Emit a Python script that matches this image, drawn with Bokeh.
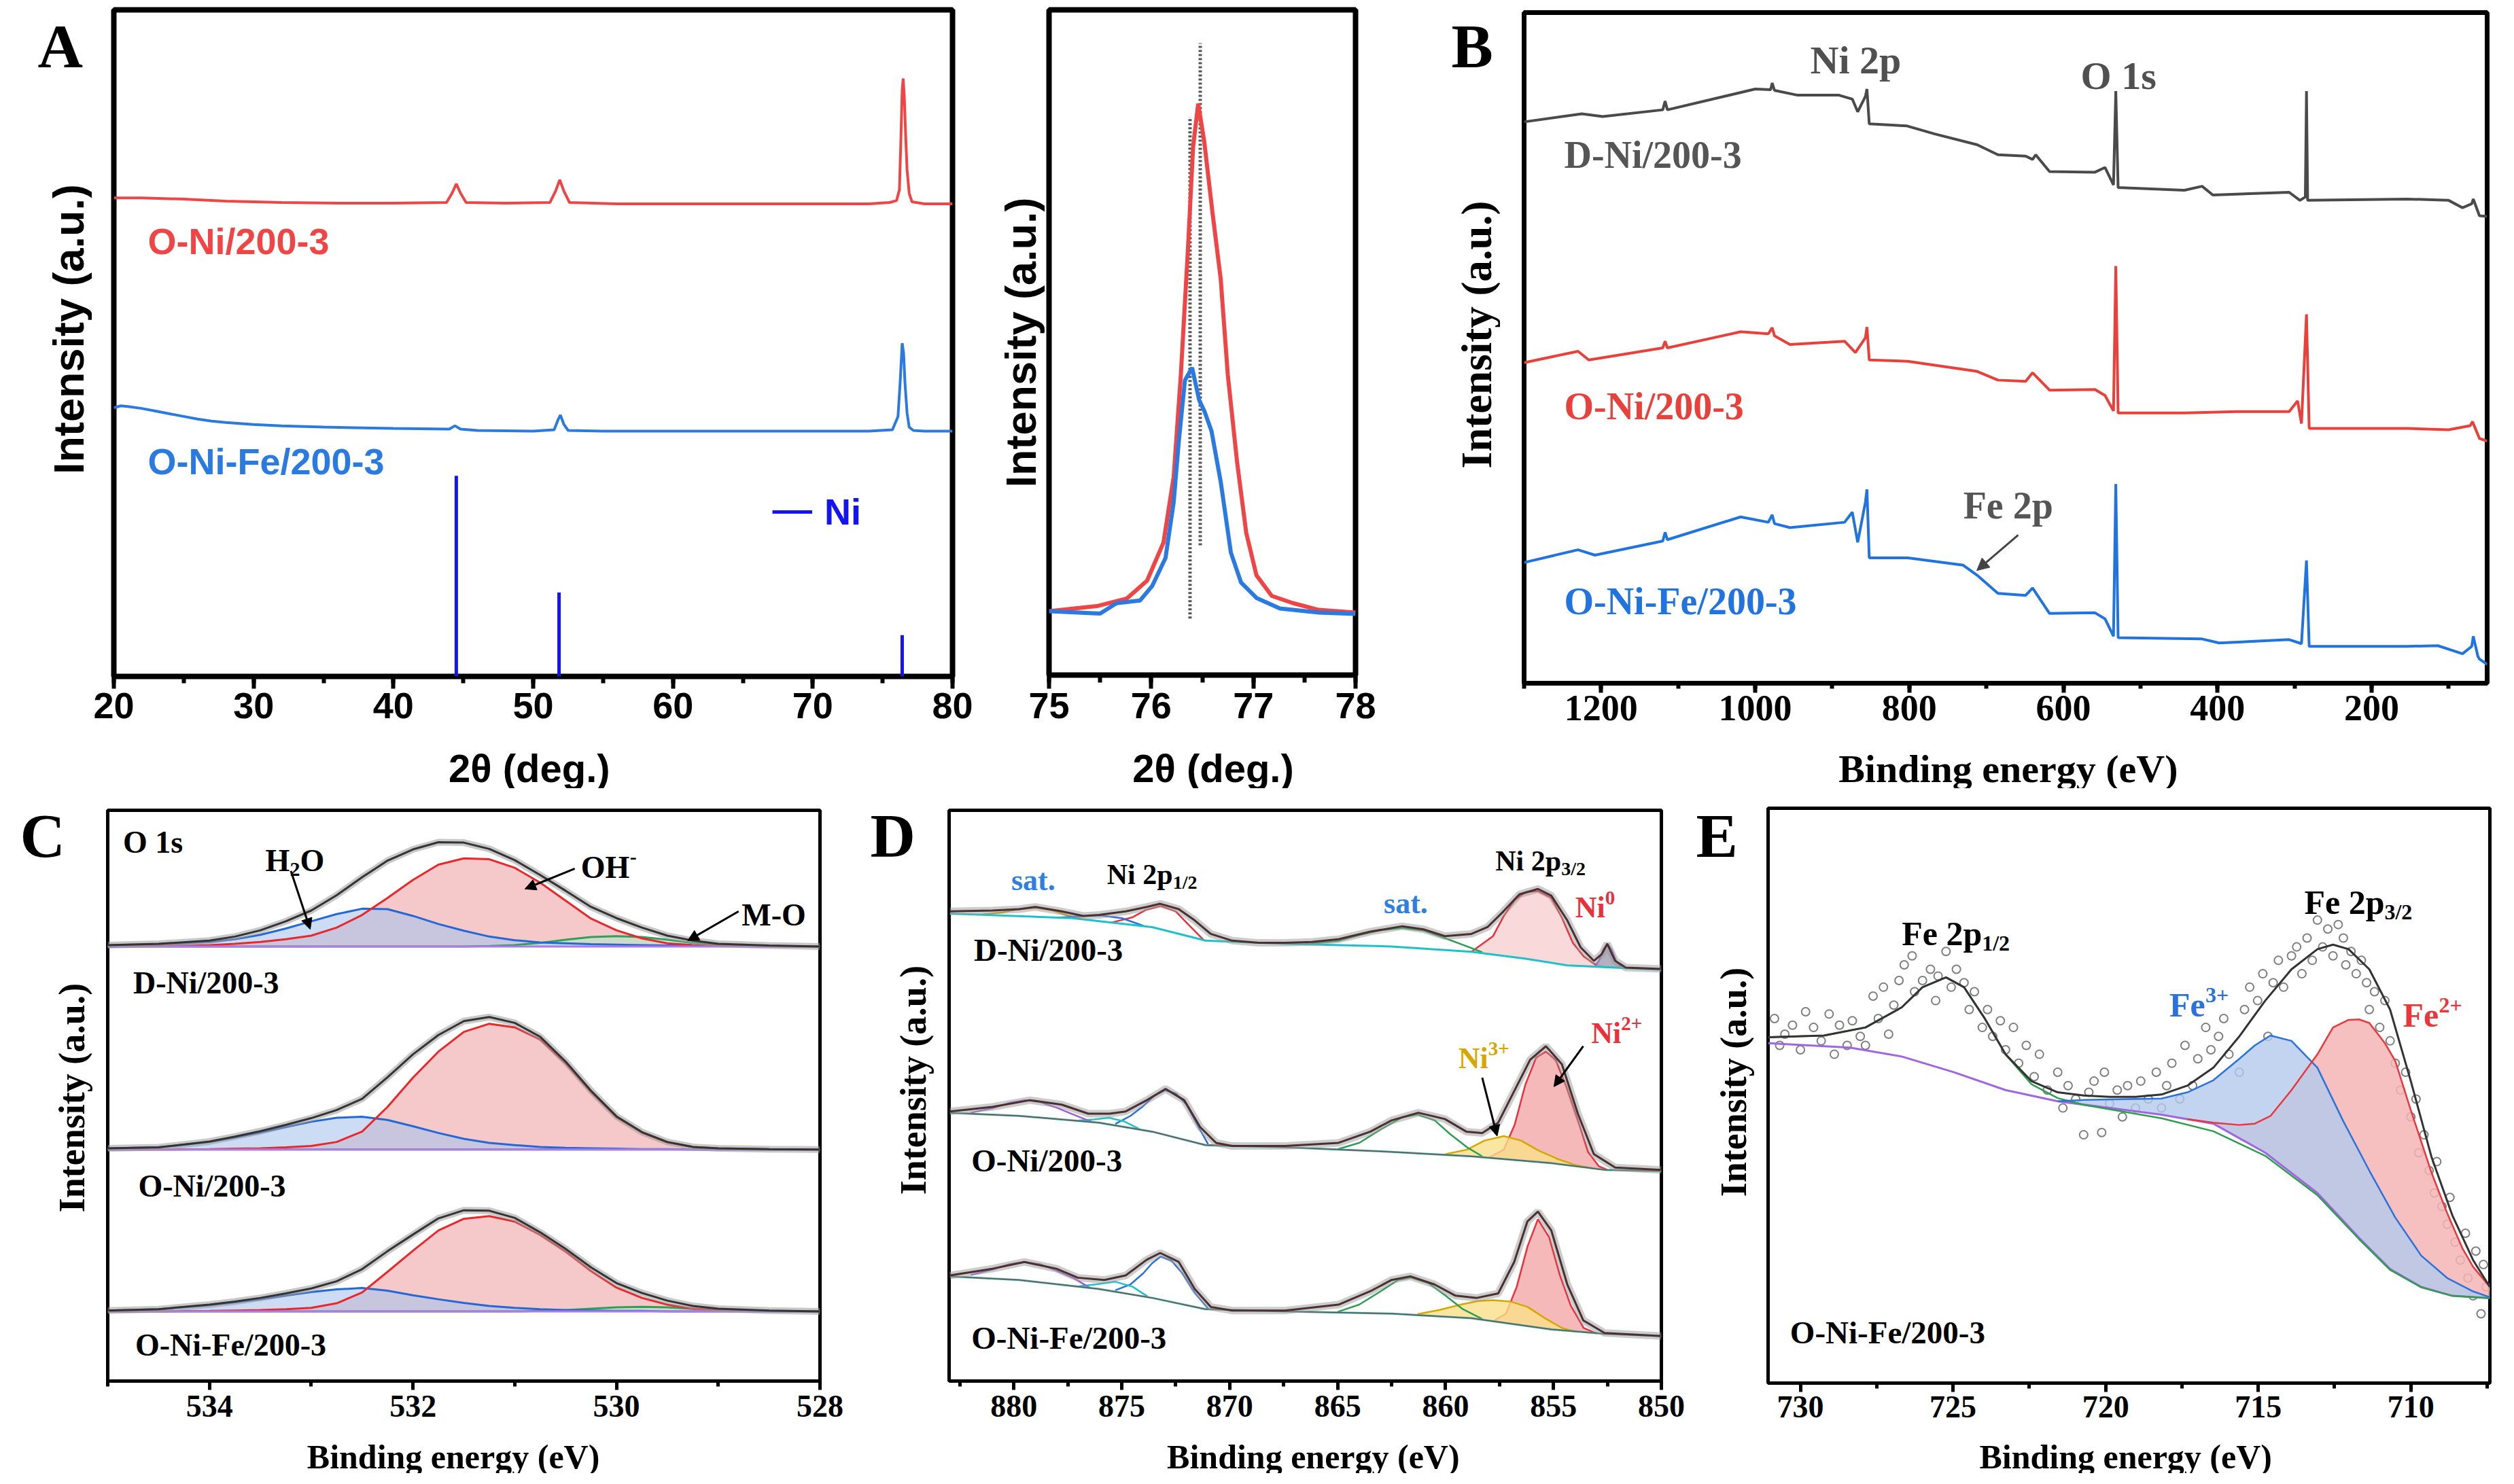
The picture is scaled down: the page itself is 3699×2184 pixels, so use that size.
import math
from bokeh.plotting import figure
from bokeh.layouts import row, column
from bokeh.models import (Range1d, SingleIntervalTicker, FixedTicker, Label, Arrow,
                          NormalHead, Legend, LegendItem)
from bokeh.embed import file_html
from bokeh.resources import INLINE

SANS = "Liberation Sans"
SERIF = "Liberation Serif"

# ======================= DATA =======================
# ---- A (XRD), intensity in a.u. (0-100) ----
A1_X_RED = [20, 22, 25, 28, 32, 36, 40, 43.8, 44.2, 44.5, 44.8, 45.2, 48, 51.2, 51.6, 51.9, 52.2, 52.6, 56, 60,
            65, 70, 74, 75.5, 76.0, 76.2, 76.3, 76.4, 76.47, 76.55, 76.65, 76.75, 76.9, 77.1, 78, 80]
A1_Y_RED = [71.8, 71.8, 71.6, 71.3, 71.1, 71.0, 71.0, 71.1, 72.5, 73.9, 72.5, 71.1, 71.0, 71.1, 72.8, 74.5, 72.8, 71.1, 70.9, 70.9,
            70.9, 70.9, 70.9, 71.1, 71.4, 73.0, 80.0, 88.0, 89.7, 87.0, 81.0, 76.0, 72.5, 71.2, 70.9, 70.9]
A1_X_BLUE = [20, 20.5, 21, 22, 23, 24, 25, 26, 27, 28, 30, 32, 35, 40, 44.0, 44.4, 44.8, 46, 50, 51.5,
             51.8, 51.95, 52.2, 52.5, 55, 60, 65, 70, 74, 75.7, 76.1, 76.25, 76.4, 76.5, 76.6, 76.75, 76.9, 77.2, 78, 80]
A1_Y_BLUE = [40.3, 40.6, 40.5, 40.2, 39.8, 39.4, 39.0, 38.6, 38.3, 38.1, 37.8, 37.6, 37.4, 37.2, 37.1, 37.6, 37.1, 36.9, 36.8, 37.0,
             38.6, 39.2, 37.8, 36.9, 36.8, 36.8, 36.8, 36.8, 36.8, 37.0, 39.0, 44.0, 50.0, 48.5, 44.0, 39.5, 37.4, 36.9, 36.8, 36.8]
A1_NI_X = [44.5, 51.85, 76.4]
A1_NI_H = [30.1, 12.6, 6.2]

A2_X_RED = [75.0, 75.48, 75.76, 75.96, 76.12, 76.22, 76.29, 76.36, 76.41, 76.46, 76.52, 76.60, 76.68, 76.75, 76.84,
            76.93, 77.03, 77.18, 77.39, 77.64, 78.0]
A2_Y_RED = [9.6, 10.4, 11.5, 14.2, 19.9, 29.8, 45.1, 64.1, 79.4, 85.9, 80.1, 69.5, 59.6, 45.1, 32.1,
            21.4, 15.0, 11.9, 10.8, 9.8, 9.4]
A2_X_BLUE = [75.0, 75.50, 75.66, 75.89, 76.01, 76.14, 76.22, 76.27, 76.33, 76.40, 76.47, 76.52, 76.59, 76.68, 76.78,
             76.88, 77.03, 77.26, 77.64, 78.0]
A2_Y_BLUE = [9.6, 9.25, 10.8, 11.2, 13.4, 17.6, 26.0, 35.1, 44.3, 46.2, 41.3, 39.7, 36.7, 29.1, 18.4,
             13.9, 11.6, 10.0, 9.4, 9.2]
A2_DOT_X = [76.38, 76.48]
A2_DOT_Y0 = [8.5, 19.5]
A2_DOT_Y1 = [83.9, 95.0]

# ---- B (XPS survey), binding energy (eV) / a.u. ----
B_X_GRAY = [1300, 1225, 1198, 1120, 1117, 1114, 1000, 980, 978, 975, 946, 892, 874, 867, 857, 855, 852, 803, 767, 712,
            685, 649, 640, 636, 618, 559, 546, 535, 532, 529, 443, 420, 406, 307, 293, 286, 284.5, 283, 154, 100,
            82, 70, 68, 60, 50]
B_Y_GRAY = [83.7, 84.9, 84.5, 85.5, 86.8, 85.5, 88.6, 88.5, 89.5, 88.4, 87.7, 87.7, 87.1, 85.2, 87.5, 88.6, 83.4, 83.1, 81.9, 80.3,
            78.8, 78.6, 78.1, 78.8, 76.3, 76.2, 76.9, 74.3, 88.3, 73.9, 73.5, 74.1, 72.8, 73.2, 72.0, 72.5, 88.3, 72.0, 72.2, 72.0,
            70.9, 71.5, 72.2, 69.7, 69.6]
B_X_RED = [1300, 1230, 1216, 1120, 1117, 1114, 1019, 983, 978, 975, 955, 884, 870, 857, 855, 852, 802, 712, 685, 649,
           640, 618, 559, 546, 535, 532, 529, 443, 375, 307, 296, 291, 284.5, 281, 154, 100, 72, 69, 60, 50]
B_Y_RED = [47.8, 49.5, 48.2, 50.0, 51.0, 50.0, 52.4, 52.1, 53.0, 51.8, 50.5, 51.0, 49.3, 51.5, 53.1, 48.2, 48.0, 46.5, 45.2, 45.0,
           46.3, 43.7, 43.8, 42.9, 40.6, 62.2, 40.3, 40.3, 40.5, 40.5, 42.1, 38.7, 55.0, 38.0, 38.0, 37.8, 38.4, 39.0, 36.5, 36.1]
B_X_BLUE = [1300, 1230, 1208, 1120, 1117, 1114, 1019, 983, 978, 975, 955, 884, 874, 867, 857, 855, 852, 802, 730, 712,
            685, 649, 640, 618, 559, 546, 535, 532, 529, 420, 398, 307, 291, 284.5, 281, 154, 114, 82, 70, 68,
            62, 60, 50]
B_Y_BLUE = [18.0, 19.9, 19.1, 21.2, 22.5, 21.4, 24.8, 24.0, 25.1, 23.8, 23.2, 24.0, 25.5, 21.0, 27.0, 28.9, 18.7, 18.7, 17.6, 16.1,
            13.4, 13.1, 14.2, 10.4, 10.5, 9.6, 7.0, 29.7, 6.8, 6.6, 6.0, 6.5, 5.9, 18.3, 5.5, 5.5, 5.6, 4.4, 5.5, 7.0,
            4.0, 3.6, 2.8]

# ---- C (O 1s), peak heights above each spectrum's baseline ----
C_X = [535, 534.5, 534, 533.75, 533.5, 533.25, 533, 532.75, 532.5, 532.25, 532, 531.75, 531.5, 531.25, 531,
       530.75, 530.5, 530.25, 530, 529.75, 529.5, 529.25, 529, 528.5, 528]
C_OFFSETS = [967, 515, 155]          # D-Ni, O-Ni, O-Ni-Fe baselines
C_DNI_H2O = [3, 5, 10, 16, 26, 40, 56, 72, 84, 83, 68, 50, 35, 22, 14, 9, 7, 5, 4, 3, 2, 2, 1, 1, 0]
C_DNI_OH = [0, 1, 3, 6, 10, 16, 24, 42, 70, 108, 148, 182, 196, 194, 175, 142, 102, 62, 36, 18, 7, 3, 1, 0, 0]
C_DNI_MO = [0, 0, 0, 0, 0, 0, 0, 0, 0, 0, 0, 0, 0, 1, 3, 8, 15, 21, 23, 21, 15, 8, 4, 1, 0]
C_DNI_FIT = [3, 6, 13, 22, 36, 56, 80, 114, 154, 191, 216, 232, 231, 217, 192, 159, 124, 88, 63, 42, 24, 13, 6, 2, 0]
C_ONI_H2O = [3, 5, 17, 27, 38, 50, 62, 71, 73, 66, 52, 37, 24, 15, 10, 6, 4, 3, 2, 1, 1, 0, 0, 0, 0]
C_ONI_OH = [0, 0, 1, 2, 3, 5, 8, 17, 40, 95, 160, 218, 262, 280, 272, 245, 192, 128, 72, 38, 16, 6, 3, 1, 0]
C_ONI_MO = [0, 0, 0, 0, 0, 0, 0, 0, 0, 0, 0, 0, 0, 0, 0, 0, 0, 0, 0, 0, 0, 0, 0, 0, 0]
C_ONI_FIT = [3, 5, 18, 29, 41, 55, 70, 88, 113, 161, 212, 255, 286, 295, 282, 251, 196, 131, 74, 39, 17, 6, 3, 1, 0]
C_ONF_H2O = [2, 5, 14, 20, 27, 35, 43, 49, 52, 46, 36, 27, 19, 12, 8, 5, 3, 2, 1, 1, 0, 0, 0, 0, 0]
C_ONF_OH = [0, 0, 1, 2, 3, 5, 8, 18, 42, 88, 135, 180, 206, 212, 200, 170, 133, 90, 53, 30, 15, 6, 3, 1, 0]
C_ONF_MO = [0, 0, 0, 0, 0, 0, 0, 0, 0, 0, 0, 0, 0, 0, 0, 1, 3, 6, 9, 10, 9, 6, 3, 1, 0]
C_ONF_FIT = [2, 5, 15, 22, 30, 40, 51, 67, 94, 134, 171, 207, 225, 224, 208, 176, 139, 98, 63, 41, 24, 12, 6, 2, 0]

# ---- D (Ni 2p) ----
D1_BG_X = [882.96, 877.29, 873.59, 871.12, 867.43, 862.5, 858.8, 856.33, 854.36, 850.0]
D1_BG_Y = [1040, 1030, 1010, 980, 973, 967, 955, 940, 925, 915]
D1_FIT_X = [882.96, 880.99, 879.75, 879.01, 877.78, 876.79, 876.06, 874.82, 873.84, 873.22, 872.36, 871.62, 870.88,
            869.89, 868.66, 867.43, 866.19, 864.96, 863.48, 862.0, 861.02, 860.03, 858.8, 858.06, 857.32, 856.58,
            855.72, 855.1, 854.36, 853.74, 853.13, 852.76, 852.51, 852.14, 851.65, 850.0]
D1_FIT_Y = [1045, 1047, 1050, 1055, 1045, 1035, 1037, 1045, 1055, 1062, 1050, 1025, 995, 980, 975, 975, 977, 983,
            1000, 1012, 1005, 990, 995, 1010, 1045, 1083, 1095, 1080, 1025, 965, 935, 950, 973, 935, 920, 917]
D1_MAIN_X = [858.8, 857.8, 857.3, 856.8, 856.3, 855.7, 855.1, 854.6, 854.1, 853.6, 853.1, 852.6]
D1_MAIN_B = [955, 950, 948, 944, 940, 936, 932, 928, 925, 923, 921, 920]
D1_MAIN_T = [955, 990, 1035, 1070, 1088, 1090, 1075, 1030, 975, 945, 928, 921]
D1_NI0_X = [853.1, 852.9, 852.7, 852.5, 852.3, 852.1, 851.8]
D1_NI0_B = [921, 920, 920, 920, 919, 919, 918]
D1_NI0_T = [921, 935, 960, 973, 960, 935, 918]
D1_SAT_X = [866.5, 865, 864, 863, 862, 861, 860, 859, 858.3]
D1_SAT_B = [972, 971, 970, 968, 966, 964, 961, 957, 953]
D1_SAT_T = [972, 979, 992, 1003, 1008, 1002, 985, 967, 954]
D1_SAT2_X = [881.5, 880.5, 879.8, 879.0, 878.2, 877.5, 876.8]
D1_SAT2_B = [1037, 1036, 1034, 1033, 1032, 1030, 1028]
D1_SAT2_T = [1038, 1043, 1050, 1053, 1047, 1036, 1028]
D1_P12_X = [875.5, 874.5, 873.9, 873.2, 872.5, 871.9, 871.2]
D1_P12_B = [1020, 1015, 1012, 1005, 997, 989, 981]
D1_P12_T = [1020, 1032, 1048, 1057, 1045, 1015, 981]
D1_BL_X = [878, 877, 876, 875, 874]
D1_BL_B = [1031, 1029, 1024, 1019, 1013]
D1_BL_T = [1031, 1034, 1036, 1030, 1013]

D2_BG_X = [882.96, 879.75, 876.06, 873.59, 871.12, 867.43, 862.5, 858.8, 855.1, 852.63, 850.0]
D2_BG_Y = [597, 590, 575, 555, 525, 520, 510, 500, 485, 470, 467]
D2_FIT_X = [882.96, 880.99, 879.26, 877.78, 876.55, 875.56, 874.82, 873.84, 872.97, 872.11, 871.37, 870.63, 869.89,
            867.43, 864.96, 863.48, 862.5, 861.26, 860.03, 859.04, 858.3, 857.56, 856.82, 856.08, 855.35, 854.61,
            853.87, 853.13, 852.14, 850.0]
D2_FIT_Y = [600, 610, 625, 615, 595, 595, 600, 625, 650, 625, 565, 530, 523, 523, 530, 555, 580, 597, 583, 555,
            552, 575, 645, 715, 745, 705, 595, 505, 475, 470]
D2_NI2_X = [858.0, 857.3, 856.8, 856.3, 855.8, 855.35, 854.9, 854.4, 853.9, 853.4, 852.9, 852.5]
D2_NI2_B = [497, 494, 492, 490, 488, 486, 484, 481, 478, 475, 472, 470]
D2_NI2_T = [497, 515, 570, 660, 720, 733, 715, 655, 585, 510, 478, 470]
D2_NI3_X = [860.0, 859.0, 858.2, 857.3, 856.5, 855.7, 854.8, 854.0, 853.1]
D2_NI3_B = [503, 501, 498, 494, 491, 488, 483, 479, 473]
D2_NI3_T = [505, 515, 535, 545, 535, 513, 494, 481, 473]
D2_SAT_X = [865.0, 864.0, 863.0, 862.0, 861.3, 860.5, 859.8, 859.0, 858.3]
D2_SAT_B = [515, 513, 511, 509, 507, 505, 503, 501, 499]
D2_SAT_T = [516, 530, 560, 587, 593, 580, 550, 520, 500]
D2_P12_X = [875.3, 874.6, 874.0, 873.5, 873.0, 872.5, 872.0, 871.5, 871.0]
D2_P12_B = [569, 563, 558, 554, 548, 542, 536, 530, 525]
D2_P12_T = [572, 590, 612, 635, 647, 640, 615, 570, 527]
D2_CY_X = [877.0, 876.3, 875.6, 874.9, 874.2]
D2_CY_B = [579, 576, 571, 566, 560]
D2_CY_T = [580, 582, 586, 578, 561]
D2_PU_X = [882.0, 881.0, 880.2, 879.5, 878.8, 878.0, 877.2, 876.4]
D2_PU_B = [595, 593, 591, 589, 586, 583, 580, 576]
D2_PU_T = [597, 607, 619, 625, 621, 608, 592, 577]

D3_BG_X = [882.96, 879.75, 876.06, 873.59, 871.12, 867.43, 862.5, 858.8, 855.1, 852.63, 850.0]
D3_BG_Y = [233, 225, 205, 185, 160, 155, 150, 140, 115, 105, 100]
D3_FIT_X = [882.96, 880.99, 879.51, 878.03, 877.04, 875.81, 874.82, 873.84, 873.22, 872.36, 871.62, 870.88, 869.89,
            867.43, 864.96, 863.48, 862.5, 861.63, 860.52, 859.54, 858.55, 857.56, 856.82, 856.21, 855.72, 855.1,
            854.36, 853.62, 852.63, 850.0]
D3_FIT_Y = [235, 250, 265, 250, 230, 225, 235, 270, 285, 265, 205, 165, 157, 157, 170, 200, 225, 233, 215, 190,
            185, 195, 265, 355, 377, 335, 215, 135, 107, 100]
D3_NI2_X = [857.8, 857.2, 856.7, 856.2, 855.72, 855.2, 854.7, 854.2, 853.6, 853.0]
D3_NI2_B = [133, 129, 126, 122, 119, 116, 113, 111, 109, 106]
D3_NI2_T = [133, 150, 210, 300, 360, 320, 235, 168, 118, 106]
D3_NI3_X = [861.3, 860.3, 859.3, 858.5, 857.8, 857.0, 856.2, 855.4, 854.6, 854.0]
D3_NI3_B = [147, 144, 141, 138, 133, 128, 122, 117, 113, 110]
D3_NI3_T = [149, 158, 170, 178, 180, 177, 165, 140, 118, 110]
D3_SAT_X = [865.0, 864.0, 863.0, 862.2, 861.6, 860.8, 860.0, 859.2, 858.3]
D3_SAT_B = [153, 152, 151, 149, 148, 146, 143, 141, 137]
D3_SAT_T = [154, 170, 200, 225, 230, 218, 190, 160, 138]
D3_P12_X = [875.3, 874.6, 874.0, 873.6, 873.2, 872.7, 872.2, 871.6, 871.0]
D3_P12_B = [199, 193, 188, 185, 181, 176, 171, 165, 160]
D3_P12_T = [202, 215, 240, 262, 277, 268, 240, 195, 161]
D3_CY_X = [877.0, 876.2, 875.3, 874.5, 873.8]
D3_CY_B = [210, 206, 199, 192, 187]
D3_CY_T = [211, 215, 221, 210, 188]
D3_PU_X = [882.0, 881.0, 880.2, 879.5, 878.8, 878.0, 877.2, 876.5]
D3_PU_B = [231, 228, 226, 224, 220, 216, 211, 207]
D3_PU_T = [236, 248, 260, 265, 260, 245, 228, 208]

# ---- E (Fe 2p) ----
E_BG_X = [731.06, 728.38, 726.68, 724.98, 723.28, 721.57, 719.87, 718.17, 716.47, 714.77, 713.06, 711.70,
          710.68, 709.66, 708.64, 707.41]
E_BG_Y = [760, 750, 730, 695, 655, 630, 615, 600, 580, 515, 425, 325, 255, 215, 195, 190]
E_FIT_X = [731.06, 729.23, 727.87, 726.68, 726.0, 725.23, 724.64, 723.96, 723.28, 722.43, 721.57, 720.72, 719.87,
           719.02, 718.17, 717.32, 716.47, 715.62, 714.77, 713.91, 713.06, 712.55, 712.04, 711.36, 710.68, 710.0,
           709.32, 708.64, 707.96, 707.41]
E_FIT_Y = [773, 777, 795, 840, 885, 907, 885, 815, 735, 675, 650, 643, 640, 640, 645, 665, 705, 775, 855, 925,
           970, 980, 970, 925, 835, 675, 505, 375, 275, 215]
E_P12_X = [731.06, 729.23, 727.87, 726.68, 726.0, 725.23, 724.64, 723.96, 723.28, 722.43, 721.57, 720.72, 719.87,
           718.17, 716.47, 714.77, 713.06, 711.70, 710.68, 709.66, 708.64, 707.41]
E_P12_Y = [773, 777, 795, 840, 885, 907, 885, 815, 735, 668, 637, 622, 612, 592, 563, 508, 420, 322, 253, 214, 195, 190]
E_FE3_X = [721.57, 720.72, 719.87, 718.17, 717.32, 716.47, 715.62, 715.11, 714.6, 713.91, 713.06, 712.21, 711.36,
           710.51, 709.66, 708.81, 707.96, 707.41]
E_FE3_B = [630, 622, 615, 600, 590, 580, 548, 528, 509, 470, 425, 362, 300, 245, 215, 199, 192, 190]
E_FE3_T = [630, 633, 634, 636, 650, 677, 725, 755, 777, 765, 705, 585, 475, 370, 285, 235, 205, 192]
E_FE2_X = [717.32, 716.47, 715.62, 715.11, 714.6, 713.91, 713.06, 712.55, 712.04, 711.7, 711.36, 710.85, 710.51,
           710.0, 709.66, 709.32, 708.81, 708.3, 707.96, 707.41]
E_FE2_B = [590, 580, 548, 528, 509, 470, 425, 390, 350, 325, 300, 265, 245, 228, 215, 208, 199, 194, 192, 190]
E_FE2_T = [590, 582, 577, 580, 597, 655, 735, 795, 812, 813, 805, 760, 720, 610, 540, 470, 380, 300, 260, 215]
E_PTS_X = [730.85, 730.68, 730.51, 730.26, 730.00, 729.83, 729.57, 729.32, 729.06, 728.89, 728.72, 728.47, 728.30,
           728.04, 727.87, 727.62, 727.45, 727.28, 727.11, 726.94, 726.77, 726.60, 726.34, 726.26, 726.00, 725.74,
           725.57, 725.49, 725.23, 725.06, 724.89, 724.64, 724.47, 724.30, 724.04, 723.87, 723.70, 723.45, 723.28,
           723.02, 722.85, 722.60, 722.34, 722.17, 721.91, 721.57, 721.40, 721.23, 720.98, 720.72, 720.55, 720.38,
           720.13, 720.04, 719.87, 719.62, 719.45, 719.28, 719.02, 718.85, 718.60, 718.34, 718.17, 718.00, 717.83,
           717.57, 717.40, 717.15, 716.98, 716.72, 716.55, 716.30, 716.13, 715.96, 715.62, 715.45, 715.28, 715.02,
           714.85, 714.68, 714.51, 714.34, 714.17, 713.91, 713.74, 713.57, 713.40, 713.23, 713.06, 712.89, 712.72,
           712.55, 712.38, 712.21, 712.13, 711.96, 711.79, 711.62, 711.45, 711.36, 711.19, 711.02, 710.85, 710.68,
           710.51, 710.34, 710.17, 710.00, 709.83, 709.74, 709.57, 709.40, 709.23, 709.15, 708.98, 708.81, 708.72,
           708.55, 708.38, 708.21, 708.13, 707.96, 707.87, 707.70, 707.62, 707.53]
E_PTS_Y = [815, 755, 780, 800, 745, 830, 795, 765, 825, 735, 800, 755, 810,
           775, 755, 865, 815, 885, 780, 845, 900, 935, 955, 875, 900, 925,
           855, 910, 965, 885, 925, 895, 835, 875, 795, 835, 775, 810, 745,
           795, 715, 755, 685, 735, 655, 695, 615, 665, 635, 555, 650, 675,
           560, 695, 625, 655, 595, 665, 615, 675, 635, 695, 615, 665, 715,
           635, 755, 665, 725, 795, 745, 775, 815, 735, 695, 835, 885, 855,
           915, 775, 895, 945, 885, 955, 975, 915, 995, 945, 1035, 975, 1015,
           955, 1025, 995, 935, 965, 915, 945, 895, 835, 875, 795, 855, 765,
           715, 655, 695, 595, 635, 515, 555, 475, 425, 495, 395, 355, 415,
           315, 275, 335, 235, 195, 295, 155, 265, 215]

# ======================= HELPERS =======================
BLACK = "black"
BASE_SHIFT = 0.2   # empirical lift of label baselines (fraction of font size)


def no_title(p):
    p.title_location = None
    return p


def base_fig(width, height, xr, yr, borders, outline, yaxis=False):
    l, r, t, b = borders
    kw = {} if yaxis else {"y_axis_type": None}
    p = figure(width=width, height=height, x_range=Range1d(*xr), y_range=Range1d(*yr),
               output_backend="svg", toolbar_location=None,
               min_border_left=l, min_border_right=r, min_border_top=t, min_border_bottom=b, **kw)
    no_title(p)
    p.outline_line_color = BLACK
    p.outline_line_width = outline
    p.outline_line_alpha = 1.0
    p.grid.visible = False
    p.background_fill_color = "white"
    p.border_fill_color = "white"
    return p


def strip(width, height):
    p = figure(width=width, height=height, x_range=Range1d(0, width), y_range=Range1d(0, height),
               output_backend="svg", toolbar_location=None, x_axis_type=None, y_axis_type=None,
               min_border=0, min_border_left=0, min_border_right=0,
               min_border_top=0, min_border_bottom=0)
    no_title(p)
    p.outline_line_color = None
    p.background_fill_color = "white"
    p.border_fill_color = "white"
    return p


def style_x(p, interval, font, tick_size, tick_out, minor_out, tick_w, label_standoff):
    ax = p.xaxis[0]
    ax.ticker = SingleIntervalTicker(interval=interval, num_minor_ticks=2)
    ax.axis_line_color = None
    ax.major_tick_in = 0
    ax.major_tick_out = tick_out
    ax.minor_tick_in = 0
    ax.minor_tick_out = minor_out
    ax.major_tick_line_width = tick_w
    ax.minor_tick_line_width = tick_w
    ax.major_tick_line_color = BLACK
    ax.minor_tick_line_color = BLACK
    ax.major_label_text_font = font
    ax.major_label_text_font_style = "bold"
    ax.major_label_text_font_size = f"{tick_size}px"
    ax.major_label_text_color = BLACK
    ax.major_label_standoff = label_standoff


def lab(p, x, y, text, size, color=BLACK, font=SERIF, dx=0, dy=0, align="left"):
    p.add_layout(Label(x=x, y=y, text=text, text_font=font,
                       text_font_style="bold", text_font_size=f"{size}px", text_color=color,
                       x_offset=dx, y_offset=dy + round(BASE_SHIFT * size),
                       text_baseline="alphabetic", text_align=align))


def ylab(p, x, y, size, font):
    p.add_layout(Label(x=x, y=y, text="Intensity (a.u.)", text_font=font, angle=math.pi / 2,
                       text_font_style="bold", text_font_size=f"{size}px", text_color=BLACK,
                       text_baseline="middle", text_align="center"))


def arrow(p, x0, y0, x1, y1, color=BLACK, w=3, head=18):
    p.add_layout(Arrow(end=NormalHead(size=head, fill_color=color, line_color=color, line_width=1),
                       x_start=x0, y_start=y0, x_end=x1, y_end=y1, line_color=color, line_width=w))


# ======================= A1 =======================
RED_A = "#ee4646"
BLUE_A = "#2a7ae0"
NI_BLUE = "#1414f0"

a1 = base_fig(1312, 1085, (20, 80), (0, 100), (32, 46, 14, 90), 8)
style_x(a1, 10, SANS, 54, 18, 10, 6, 6)
a1.line(A1_X_RED, A1_Y_RED, line_color=RED_A, line_width=4)
a1.line(A1_X_BLUE, A1_Y_BLUE, line_color=BLUE_A, line_width=4)
ni = a1.segment(x0=A1_NI_X, y0=[0, 0, 0], x1=A1_NI_X, y1=A1_NI_H, line_color=NI_BLUE, line_width=5)
leg = Legend(items=[LegendItem(label="Ni", renderers=[ni])], location=(969, 211),
             border_line_color=None, background_fill_alpha=0, padding=0, margin=0, spacing=0,
             glyph_width=59, glyph_height=40, label_standoff=18,
             label_text_font=SANS, label_text_font_style="bold", label_text_font_size="54px",
             label_text_color=NI_BLUE)
a1.add_layout(leg)
lab(a1, 22.43, 64.2, "O-Ni/200-3", 54, RED_A, SANS)
lab(a1, 22.43, 31.1, "O-Ni-Fe/200-3", 54, BLUE_A, SANS)

sA = strip(135, 1160)
lab(sA, 55, 1075, "A", 92)
ylab(sA, 100, 676, 63, SANS)
tA1 = strip(1312, 75)
lab(tA1, 650, 18, "2θ (deg.)", 58, BLACK, SANS, align="center")

# ======================= A2 =======================
a2 = base_fig(635, 1085, (75, 78), (0, 100), (96, 88, 14, 92), 8, yaxis=True)
style_x(a2, 1, SANS, 54, 20, 11, 6, 6)
ay = a2.yaxis[0]
ay.ticker = FixedTicker(ticks=[])
ay.axis_line_color = None
ay.major_tick_out = 0
ay.major_tick_in = 0
ay.minor_tick_out = 0
ay.minor_tick_in = 0
ay.major_label_standoff = 0
ay.axis_label = "Intensity (a.u.)"
ay.axis_label_text_font = SANS
ay.axis_label_text_font_style = "bold"
ay.axis_label_text_font_size = "63px"
ay.axis_label_text_color = BLACK
ay.axis_label_standoff = 7
a2.segment(x0=A2_DOT_X, y0=A2_DOT_Y0, x1=A2_DOT_X, y1=A2_DOT_Y1, line_color="#555555",
           line_width=5, line_dash="3 3")
a2.line(A2_X_RED, A2_Y_RED, line_color=RED_A, line_width=6)
a2.line(A2_X_BLUE, A2_Y_BLUE, line_color=BLUE_A, line_width=6)
tA2 = strip(635, 75)
lab(tA2, 340, 18, "2θ (deg.)", 58, BLACK, SANS, align="center")

# ======================= B =======================
GRAY_B = "#4a4a4a"
RED_B = "#e8403a"
BLUE_B = "#2173e0"
b = base_fig(1476, 1087, (1300, 50), (0, 100), (35, 24, 18, 82), 7)
style_x(b, 200, SERIF, 54, 14, 8, 6, 4)
b.line(B_X_GRAY, B_Y_GRAY, line_color=GRAY_B, line_width=4)
b.line(B_X_RED, B_Y_RED, line_color=RED_B, line_width=4)
b.line(B_X_BLUE, B_Y_BLUE, line_color=BLUE_B, line_width=4)
lab(b, 928.6, 91.7, "Ni 2p", 58, "#505050")
lab(b, 577.5, 89.4, "O 1s", 58, "#505050")
lab(b, 1248, 77.7, "D-Ni/200-3", 56, "#555555")
lab(b, 1248, 40.2, "O-Ni/200-3", 56, RED_B)
lab(b, 1248, 11.1, "O-Ni-Fe/200-3", 56, BLUE_B)
lab(b, 730, 25.4, "Fe 2p", 56, "#555555")
arrow(b, 658.7, 22.1, 712.5, 16.8, "#444444", 3, 18)

sB = strip(125, 1160)
lab(sB, 53, 1075, "B", 92)
ylab(sB, 90, 668, 63, SERIF)
tB = strip(1476, 73)
lab(tB, 742, 17, "Binding energy (eV)", 58, align="center")

# ======================= C =======================
C_RED = "#e8282b"
C_BLUE = "#2468d8"
C_GREEN = "#2ea05c"
C_PURPLE = "#b07be8"
c = base_fig(1121, 944, (535, 528), (0, 1270), (22, 51, 32, 72), 5)
style_x(c, 2, SERIF, 46, 13, 8, 5, 8)
C_SETS = [(C_OFFSETS[0], C_DNI_H2O, C_DNI_OH, C_DNI_MO, C_DNI_FIT),
          (C_OFFSETS[1], C_ONI_H2O, C_ONI_OH, C_ONI_MO, C_ONI_FIT),
          (C_OFFSETS[2], C_ONF_H2O, C_ONF_OH, C_ONF_MO, C_ONF_FIT)]
for off, h2o, oh, mo, fit in C_SETS:
    base = [off for _ in C_X]
    y_h2o = [off + v for v in h2o]
    y_oh = [off + v for v in oh]
    y_mo = [off + v for v in mo]
    y_fit = [off + v for v in fit]
    c.varea(x=C_X, y1=base, y2=y_oh, fill_color="#f3bcbc", fill_alpha=0.8)
    c.varea(x=C_X, y1=base, y2=y_h2o, fill_color="#a9c4ec", fill_alpha=0.6)
    c.varea(x=C_X, y1=base, y2=y_mo, fill_color="#bfe3c9", fill_alpha=0.7)
    c.line(C_X, y_mo, line_color=C_GREEN, line_width=3)
    c.line(C_X, y_h2o, line_color=C_BLUE, line_width=3)
    c.line(C_X, y_oh, line_color=C_RED, line_width=3)
    c.line(C_X, base, line_color=C_PURPLE, line_width=3)
    c.line(C_X, y_fit, line_color="#9a9a9a", line_width=10, line_alpha=0.55)
    c.line(C_X, y_fit, line_color="#333333", line_width=3)
lab(c, 534.85, 1185, "O 1s", 46)
lab(c, 533.45, 1145, "H", 46)
lab(c, 533.45, 1145, "2", 30, dx=36, dy=-10)
lab(c, 533.45, 1145, "O", 46, dx=51)
lab(c, 530.35, 1130, "OH", 46)
lab(c, 530.35, 1130, "-", 30, dx=72, dy=18)
lab(c, 528.77, 1023, "M-O", 46)
lab(c, 534.75, 872, "D-Ni/200-3", 46)
lab(c, 534.70, 420, "O-Ni/200-3", 46)
lab(c, 534.73, 67, "O-Ni-Fe/200-3", 46)
arrow(c, 533.2, 1135, 533.01, 1005, BLACK, 3, 16)
arrow(c, 530.41, 1140, 530.9, 1095, BLACK, 3, 16)
arrow(c, 528.8, 1045, 529.3, 980, BLACK, 3, 16)

sC = strip(136, 1008)
lab(sC, 29, 921, "C", 92)
ylab(sC, 105, 553, 54, SERIF)
tC = strip(1121, 64)
lab(tC, 544, 15, "Binding energy (eV)", 50, align="center")

# ======================= D =======================
D_RED = "#e8313a"
D_YEL = "#d4a800"
D_GREEN = "#2e9e52"
D_BLUE = "#2a6fe0"
D_CYAN = "#1fc1c8"
D_PURP = "#9a5fd6"
D_ORANGE = "#cc9a06"
D_FIT = "#4a3030"
d = base_fig(1105, 944, (883, 850), (0, 1270), (19, 38, 32, 72), 5)
style_x(d, 5, SERIF, 46, 13, 8, 5, 8)


def comp(fig, xs, bs, ts, color, fill=None, alpha=0.8, w=2.5):
    if fill is not None:
        fig.varea(x=xs, y1=bs, y2=ts, fill_color=fill, fill_alpha=alpha)
    fig.line(xs, ts, line_color=color, line_width=w)


# D-Ni
comp(d, D1_MAIN_X, D1_MAIN_B, D1_MAIN_T, D_RED, "#f8d0d0")
comp(d, D1_NI0_X, D1_NI0_B, D1_NI0_T, D_PURP, "#a8a8b8", 0.9)
comp(d, D1_SAT_X, D1_SAT_B, D1_SAT_T, D_GREEN)
comp(d, D1_SAT2_X, D1_SAT2_B, D1_SAT2_T, D_ORANGE)
comp(d, D1_P12_X, D1_P12_B, D1_P12_T, D_RED)
comp(d, D1_BL_X, D1_BL_B, D1_BL_T, D_BLUE)
d.line(D1_BG_X, D1_BG_Y, line_color=D_CYAN, line_width=3)
d.line(D1_FIT_X, D1_FIT_Y, line_color="#9a9a9a", line_width=11, line_alpha=0.5)
d.line(D1_FIT_X, D1_FIT_Y, line_color=D_FIT, line_width=3)
# O-Ni
comp(d, D2_NI2_X, D2_NI2_B, D2_NI2_T, D_RED, "#f2a8a8")
comp(d, D2_NI3_X, D2_NI3_B, D2_NI3_T, D_YEL, "#f9e08a")
comp(d, D2_SAT_X, D2_SAT_B, D2_SAT_T, D_GREEN)
comp(d, D2_P12_X, D2_P12_B, D2_P12_T, D_BLUE)
comp(d, D2_CY_X, D2_CY_B, D2_CY_T, D_CYAN)
comp(d, D2_PU_X, D2_PU_B, D2_PU_T, D_PURP)
d.line(D2_BG_X, D2_BG_Y, line_color=D_CYAN, line_width=3)
d.line(D2_BG_X, D2_BG_Y, line_color="#8c4a3a", line_width=1.5)
d.line(D2_FIT_X, D2_FIT_Y, line_color="#9a9a9a", line_width=11, line_alpha=0.5)
d.line(D2_FIT_X, D2_FIT_Y, line_color=D_FIT, line_width=3)
# O-Ni-Fe
comp(d, D3_NI2_X, D3_NI2_B, D3_NI2_T, D_RED, "#f2a8a8")
comp(d, D3_NI3_X, D3_NI3_B, D3_NI3_T, D_YEL, "#f9e08a")
comp(d, D3_SAT_X, D3_SAT_B, D3_SAT_T, D_GREEN)
comp(d, D3_P12_X, D3_P12_B, D3_P12_T, D_BLUE)
comp(d, D3_CY_X, D3_CY_B, D3_CY_T, D_CYAN)
comp(d, D3_PU_X, D3_PU_B, D3_PU_T, D_PURP)
d.line(D3_BG_X, D3_BG_Y, line_color=D_CYAN, line_width=3)
d.line(D3_BG_X, D3_BG_Y, line_color="#8c4a3a", line_width=1.5)
d.line(D3_FIT_X, D3_FIT_Y, line_color="#9a9a9a", line_width=11, line_alpha=0.5)
d.line(D3_FIT_X, D3_FIT_Y, line_color=D_FIT, line_width=3)

SAT_BLUE = "#2f7fe0"
lab(d, 880.12, 1100, "sat.", 44, SAT_BLUE)
lab(d, 862.86, 1050, "sat.", 44, SAT_BLUE)
lab(d, 875.69, 1115, "Ni 2p", 42)
lab(d, 875.69, 1115, "1/2", 28, dx=97, dy=-9)
lab(d, 857.69, 1145, "Ni 2p", 42)
lab(d, 857.69, 1145, "3/2", 28, dx=97, dy=-9)
lab(d, 853.99, 1040, "Ni", 44, D_RED)
lab(d, 853.99, 1040, "0", 29, D_RED, dx=44, dy=17)
lab(d, 853.25, 760, "Ni", 44, D_RED)
lab(d, 853.25, 760, "2+", 29, D_RED, dx=44, dy=17)
lab(d, 859.41, 705, "Ni", 44, D_YEL)
lab(d, 859.41, 705, "3+", 29, D_YEL, dx=44, dy=17)
lab(d, 881.85, 945, "D-Ni/200-3", 47)
lab(d, 881.97, 477, "O-Ni/200-3", 47)
lab(d, 881.97, 83, "O-Ni-Fe/200-3", 47)
arrow(d, 858.3, 675, 857.61, 545, BLACK, 3, 16)
arrow(d, 853.62, 745, 854.98, 655, BLACK, 3, 16)

sD = strip(120, 1008)
lab(sD, 23, 921, "D", 92)
ylab(sD, 86, 579, 54, SERIF)
tD = strip(1105, 64)
lab(tD, 565, 15, "Binding energy (eV)", 50, align="center")

# ======================= E =======================
E_RED = "#e8383d"
E_BLUE = "#2a72dc"
e = base_fig(1096, 944, (731.06, 707.41), (0, 1285), (14, 20, 29, 69), 5)
style_x(e, 5, SERIF, 46, 13, 8, 5, 6)
e.scatter(E_PTS_X, E_PTS_Y, marker="circle", size=12, fill_color=None, line_color="#7f7f7f", line_width=2)
e.varea(x=E_FE2_X, y1=E_FE2_B, y2=E_FE2_T, fill_color="#f5b5b5", fill_alpha=0.85)
e.varea(x=E_FE3_X, y1=E_FE3_B, y2=E_FE3_T, fill_color="#b3c9ec", fill_alpha=0.8)
e.line(E_BG_X, E_BG_Y, line_color="#a066e0", line_width=3)
e.line(E_P12_X, E_P12_Y, line_color="#2d9e4e", line_width=2.5)
e.line(E_FE3_X, E_FE3_T, line_color=E_BLUE, line_width=2.5)
e.line(E_FE2_X, E_FE2_T, line_color=E_RED, line_width=2.5)
e.line(E_FIT_X, E_FIT_Y, line_color="#333333", line_width=3)
lab(e, 726.68, 990, "Fe 2p", 50)
lab(e, 726.68, 990, "1/2", 32, dx=118, dy=-10)
lab(e, 713.49, 1060, "Fe 2p", 50)
lab(e, 713.49, 1060, "3/2", 32, dx=118, dy=-10)
lab(e, 717.91, 830, "Fe", 50, E_BLUE)
lab(e, 717.91, 830, "3+", 32, E_BLUE, dx=53, dy=19)
lab(e, 710.26, 807, "Fe", 50, E_RED)
lab(e, 710.26, 807, "2+", 32, E_RED, dx=53, dy=19)
lab(e, 730.34, 100, "O-Ni-Fe/200-3", 47)

sE = strip(105, 1008)
lab(sE, 13, 921, "E", 92)
ylab(sE, 68, 576, 54, SERIF)
tE = strip(1096, 64)
lab(tE, 543, 15, "Binding energy (eV)", 50, align="center")

top = row(sA, column(a1, tA1), column(a2, tA2), sB, column(b, tB))
bottom = row(sC, column(c, tC), sD, column(d, tD), sE, column(e, tE))
layout = column(top, bottom)
open("out.html", "w").write(file_html(layout, INLINE))
